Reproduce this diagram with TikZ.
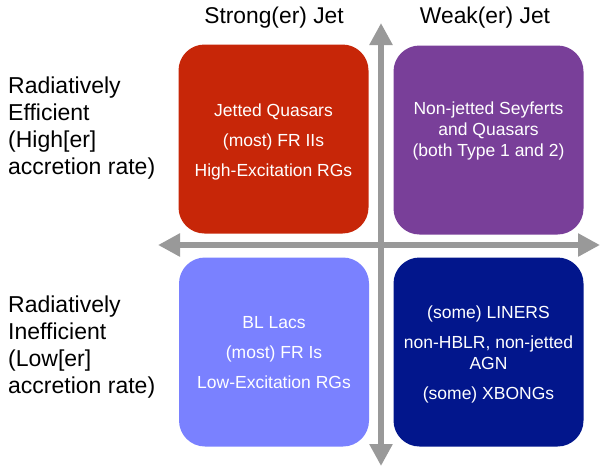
\documentclass[tikz,border=0pt]{standalone}
\usepackage{fontspec}
\setmainfont{Liberation Sans}
\usetikzlibrary{arrows.meta}
\definecolor{jetred}{RGB}{199,38,8}
\definecolor{seyfpurple}{RGB}{121,63,153}
\definecolor{lacblue}{RGB}{122,129,255}
\definecolor{linernavy}{RGB}{2,22,140}
\definecolor{axisgray}{RGB}{153,153,153}
\begin{document}
\begin{tikzpicture}[x=1pt,y=-1pt,
  quad/.style={rounded corners=26pt, minimum width=190pt, minimum height=189pt, inner sep=0pt},
  quadtext/.style={text=white, align=center, inner sep=0pt, font=\fontsize{17.5}{21}\selectfont},
  axislabel/.style={font=\fontsize{22.8}{27}\selectfont, inner sep=0pt},
  rowlabel/.style={font=\fontsize{23}{27}\selectfont, align=left, anchor=west, inner sep=0pt},
  axisarrow/.style={draw=axisgray, line width=6pt,
    {Triangle[width=22pt,length=22pt]}-{Triangle[width=22pt,length=22pt]}}
]
\useasboundingbox (0,0) rectangle (601,467);

% axis end points
\coordinate (left) at (158,245);
\coordinate (right) at (600,245);
\coordinate (top) at (381,23);
\coordinate (bottom) at (381,466);
\draw[axisarrow] (left) -- (right);
\draw[axisarrow] (top) -- (bottom);

% quadrants
\node[quad, fill=jetred] (hiStrong) at (273.5,139) {};
\node[quad, fill=seyfpurple] (hiWeak) at (488.5,140) {};
\node[quad, fill=lacblue] (loStrong) at (274,352) {};
\node[quad, fill=linernavy] (loWeak) at (488.5,352) {};

\node[quadtext] (hiStrongTxt) at ([yshift=-3pt]hiStrong.center)
  {Jetted Quasars\\[9pt](most) FR IIs\\[9pt]High-Excitation RGs};
\node[quadtext] (hiWeakTxt) at ([yshift=9pt]hiWeak.center)
  {Non-jetted Seyferts\\and Quasars\\(both Type 1 and 2)};
\node[quadtext] (loStrongTxt) at ([yshift=-1pt]loStrong.center)
  {BL Lacs\\[9pt](most) FR Is\\[9pt]Low-Excitation RGs};
\node[quadtext] (loWeakTxt) at ([yshift=-2pt]loWeak.center)
  {(some) LINERS\\[9pt]non-HBLR, non-jetted\\AGN\\[9pt](some) XBONGs};

% column headings
\node[axislabel] (colStrong) at (274,18) {Strong(er) Jet};
\node[axislabel] (colWeak) at (485,18) {Weak(er) Jet};

% row headings
\node[rowlabel] (rowEff) at (8,128) {Radiatively\\Efficient\\(High[er]\\accretion rate)};
\node[rowlabel] (rowIneff) at (8,347) {Radiatively\\Inefficient\\(Low[er]\\accretion rate)};
\end{tikzpicture}
\end{document}
